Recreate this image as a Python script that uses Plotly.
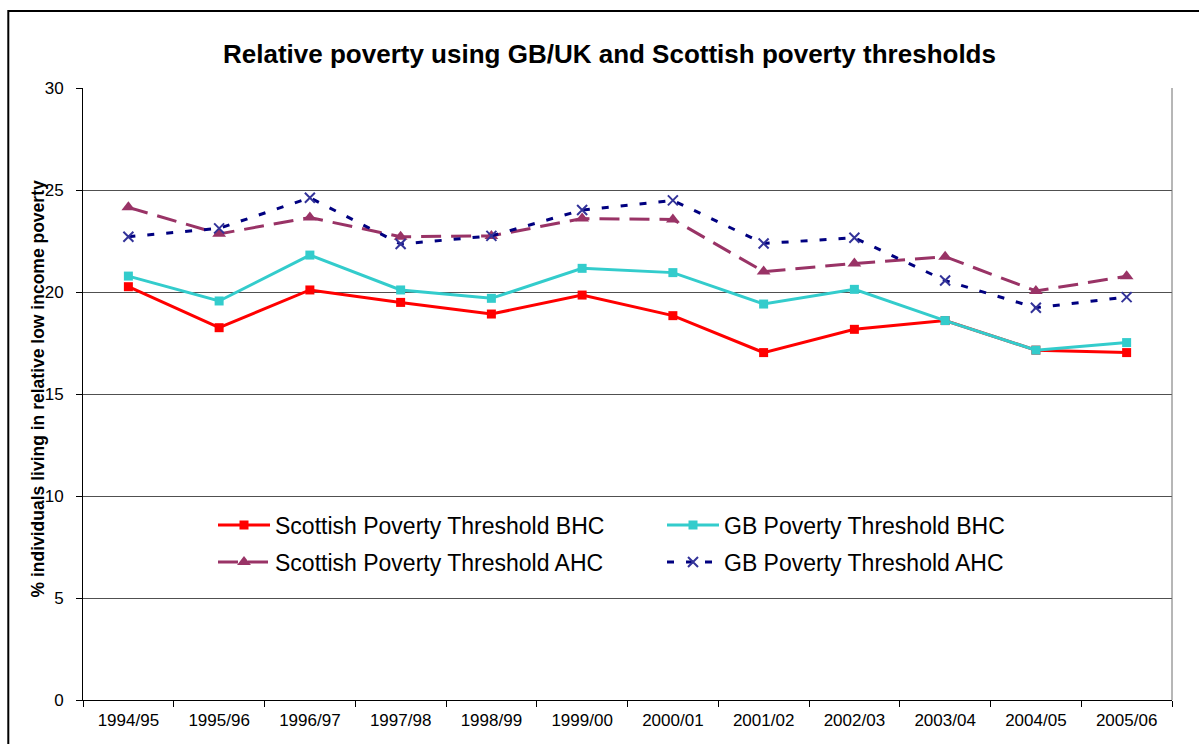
import plotly.graph_objects as go

years = ["1994/95", "1995/96", "1996/97", "1997/98", "1998/99", "1999/00",
         "2000/01", "2001/02", "2002/03", "2003/04", "2004/05", "2005/06"]
scot_bhc = [20.26, 18.25, 20.1, 19.49, 18.92, 19.85, 18.84, 17.03, 18.17, 18.6, 17.15, 17.03]
gb_bhc = [20.78, 19.56, 21.81, 20.1, 19.69, 21.16, 20.95, 19.41, 20.13, 18.6, 17.15, 17.52]
scot_ahc = [24.15, 22.85, 23.65, 22.71, 22.75, 23.6, 23.56, 21.0, 21.4, 21.73, 20.05, 20.77]
gb_ahc = [22.71, 23.12, 24.62, 22.35, 22.75, 24.02, 24.49, 22.38, 22.66, 20.56, 19.23, 19.75]

names = ["Scottish Poverty Threshold BHC", "GB Poverty Threshold BHC",
         "Scottish Poverty Threshold AHC", "GB Poverty Threshold AHC"]

FONT = "Liberation Sans, Arial, sans-serif"
W, H = 1199, 744
L, R, T, B = 83, 27, 88, 44
PW, PH = W - L - R, H - T - B

def px_x(p):
    return (p - L) / PW

def px_y(p):
    return (H - B - p) / PH

fig = go.Figure()
fig.add_trace(go.Scatter(x=years, y=scot_bhc, name=names[0], mode="lines+markers",
                         line=dict(color="#FF0000", width=3),
                         marker=dict(symbol="square", size=9, color="#FF0000"),
                         legend="legend"))
fig.add_trace(go.Scatter(x=years, y=scot_ahc, name=names[2], mode="lines+markers",
                         line=dict(color="#993366", width=3, dash="20px,10px"),
                         marker=dict(symbol="triangle-up", size=12, color="#993366"),
                         legend="legend3"))
fig.add_trace(go.Scatter(x=years, y=gb_ahc, name=names[3], mode="lines+markers",
                         line=dict(color="#000080", width=3, dash="7px,12px"),
                         marker=dict(symbol="x-thin", size=10,
                                     line=dict(color="#333399", width=2)),
                         legend="legend4"))
fig.add_trace(go.Scatter(x=years, y=gb_bhc, name=names[1], mode="lines+markers",
                         line=dict(color="#33CCCC", width=3),
                         marker=dict(symbol="square", size=9, color="#33CCCC"),
                         legend="legend2"))

leg_common = dict(font=dict(family=FONT, size=23, color="#000000"),
                  bgcolor="rgba(0,0,0,0)", borderwidth=0, itemwidth=52,
                  xanchor="left", yanchor="middle", orientation="h")
lx1, lx2 = 213, 662
ly1, ly2 = 525, 562
layout_legends = {
    "legend": dict(x=px_x(lx1), y=px_y(ly1), **leg_common),
    "legend2": dict(x=px_x(lx2), y=px_y(ly1), **leg_common),
    "legend3": dict(x=px_x(lx1), y=px_y(ly2), **leg_common),
    "legend4": dict(x=px_x(lx2), y=px_y(ly2), **leg_common),
}

fig.update_layout(
    width=W, height=H,
    margin=dict(l=L, r=R, t=T, b=B, pad=0),
    paper_bgcolor="#FFFFFF", plot_bgcolor="#FFFFFF",
    font=dict(family=FONT, color="#000000"),
    showlegend=True,
    title=dict(text="<b>Relative poverty using GB/UK and Scottish poverty thresholds</b>",
               font=dict(family=FONT, size=26, color="#000000"),
               x=609.5 / W, xref="container", xanchor="center",
               y=1 - 54 / H, yref="container", yanchor="middle"),
    xaxis=dict(type="category", tickson="boundaries", ticks="outside", ticklen=6,
               tickcolor="#000000", tickwidth=1, showline=True, linecolor="#000000",
               linewidth=1, showgrid=False, zeroline=False,
               ticklabelstandoff=5,
               tickfont=dict(family=FONT, size=17, color="#000000"),
               range=[-0.5, len(years) - 0.5]),
    yaxis=dict(range=[0, 30], dtick=5, tick0=0, ticks="outside", ticklen=6,
               tickcolor="#000000", showline=True, linecolor="#000000", linewidth=1,
               showgrid=True, gridcolor="#505050", gridwidth=1, zeroline=False,
               ticklabelstandoff=9,
               tickfont=dict(family=FONT, size=17, color="#000000")),
    annotations=[dict(text="<b>% individuals living in relative low income poverty</b>",
                      textangle=-90, xref="paper", yref="paper",
                      x=px_x(37.5), y=px_y(389), xanchor="center", yanchor="middle",
                      showarrow=False,
                      font=dict(family=FONT, size=17.5, color="#000000"))],
    shapes=[
        dict(type="line", xref="paper", yref="paper", x0=1, x1=1, y0=0, y1=1,
             line=dict(color="#6E6E6E", width=1)),
        dict(type="rect", xref="paper", yref="paper",
             x0=px_x(8.3), x1=px_x(1215), y0=px_y(760), y1=px_y(11),
             line=dict(color="#000000", width=2), fillcolor="rgba(0,0,0,0)",
             layer="above"),
    ],
    **layout_legends,
)

fig.write_html("out.html")
